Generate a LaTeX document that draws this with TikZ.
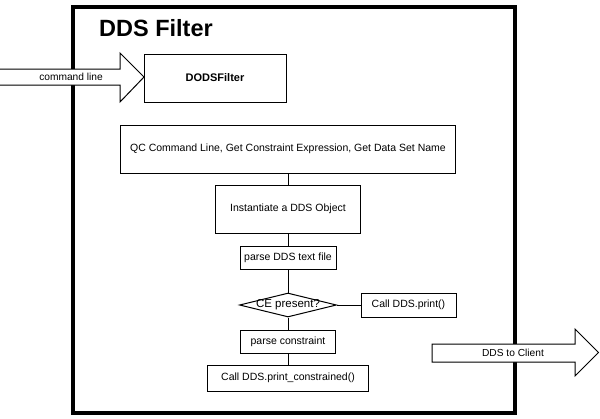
\documentclass[tikz,border=0pt]{standalone}
\usepackage{fontspec}
\setmainfont{Liberation Sans}
\usetikzlibrary{shapes.geometric}
\begin{document}
\begin{tikzpicture}[x=1pt,y=-1pt,
  box/.style={draw, line width=1pt, fill=white, inner sep=0pt, font=\fontsize{10.5}{12}\selectfont},
  decision/.style={draw, line width=1pt, fill=white, diamond, inner sep=0pt, minimum width=97pt, minimum height=24pt, label={[font=\fontsize{11.5}{13}\selectfont, inner sep=0pt]center:CE present?}},
  link/.style={line width=1pt},
  fatarrow/.style={draw, line width=1pt, fill=white, line join=miter},
  frame/.style={line width=4pt},
  lbl/.style={font=\fontsize{10.2}{12}\selectfont, inner sep=0pt}]
\useasboundingbox (0,0) rectangle (600,418);
\draw[frame] (73,7) rectangle (515,413);
\node[anchor=base west, inner sep=0pt, font=\fontsize{23.5}{28}\selectfont\bfseries] (title) at (99,36.5) {DDS Filter};

\node[box, minimum width=142pt, minimum height=48pt] (dods) at (215,78) {\bfseries\fontsize{11}{13}\selectfont DODSFilter};
\node[box, minimum width=335pt, minimum height=48pt] (qc) at (288,149) {QC Command Line, Get Constraint Expression, Get Data Set Name};
\node[box, minimum width=145pt, minimum height=48pt] (inst) at (288,209) {Instantiate a DDS Object};
\node[box, minimum width=96pt, minimum height=23pt] (parse) at (288,257.5) {parse DDS text file};
\node[decision] (ce) at (288,305) {};
\node[box, minimum width=95pt, minimum height=24pt] (print) at (408.5,305) {Call DDS.print()};
\node[box, minimum width=95pt, minimum height=23pt] (pcons) at (288,341.5) {parse constraint};
\node[box, minimum width=161pt, minimum height=26pt] (pcd) at (288,378) {Call DDS.print\_constrained()};

\draw[link] (qc) -- (inst);
\draw[link] (inst) -- (parse);
\draw[link] (parse) -- (ce);
\draw[link] (ce) -- (pcons);
\draw[link] (pcons) -- (pcd);
\draw[link] (ce) -- (print);

\draw[fatarrow] (-1,69) -- (120,69) -- (120,53) -- (144,77) -- (120,102) -- (120,85) -- (-1,85);
\node[lbl] (cmd) at (71,77) {command line};

\draw[fatarrow] (432,344) -- (575,344) -- (575,329) -- (598.5,352.5) -- (575,376) -- (575,362) -- (432,362) -- cycle;
\node[lbl] (client) at (513,353) {DDS to Client};
\end{tikzpicture}
\end{document}
